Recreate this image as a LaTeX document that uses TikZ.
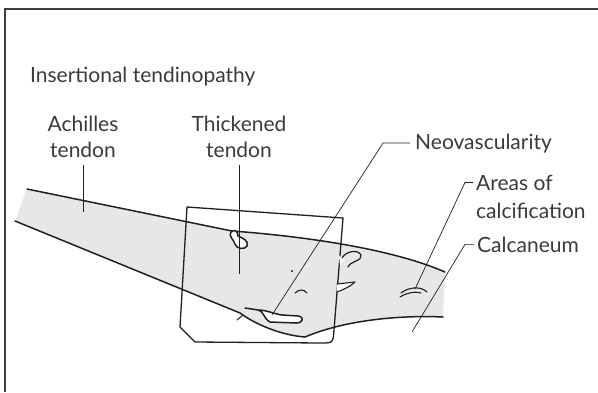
\documentclass[tikz,border=0pt]{standalone}
\usepackage{fontspec}
\setmainfont{Lato}
\usetikzlibrary{calc}
\definecolor{ink}{HTML}{231F20}
\definecolor{tissue}{HTML}{E6E7E8}
\definecolor{labelink}{HTML}{3A3A3A}
\begin{document}
\begin{tikzpicture}[x=1pt,y=-1pt,
  outline/.style={draw=ink,line width=1.5pt,line join=round,line cap=round},
  leader/.style={draw=ink,line width=0.7pt},
  lbl/.style={inner sep=0pt,text=labelink,font=\fontsize{21}{25}\selectfont},
  frame/.style={draw=black!75,line width=1.1pt}]
\useasboundingbox (0,0) rectangle (598,392);

% open frame: top and left edges only
\draw[frame] (598,9) -- (5,9) -- (5,392);

% tendon running into the calcaneum
\fill[tissue] (27,189) -- (232,231)
  .. controls (300,236) and (390,248) .. (445,272)
  -- (443,317)
  .. controls (400,315) and (345,320) .. (305,337)
  .. controls (280,335) and (255,324) .. (240,313)
  -- (15,221) -- cycle;
\draw[outline] (27,189) -- (232,231)
  .. controls (300,236) and (390,248) .. (445,272);
\draw[outline] (15,221) -- (240,313)
  .. controls (255,324) and (280,335) .. (305,337)
  .. controls (345,320) and (400,315) .. (443,317);
\draw[outline,line width=1pt] (237,320) -- (243,315);

% thickened area at the tendon surface
\draw[outline,fill=white] (231,232) .. controls (234,229) and (238,231) .. (238,236)
  .. controls (243,238) and (249,241) .. (247,246)
  .. controls (245,250) and (236,249) .. (235,244)
  .. controls (234,240) and (228,236) .. (231,232) -- cycle;

% neovascular pocket
\draw[outline,fill=white] (258,310) .. controls (264,311) and (263,318) .. (270,322)
  -- (296,323) .. controls (303,323) and (305,317) .. (298,316)
  -- (282,315) .. controls (274,314) and (267,310) .. (258,310) -- cycle;
\draw[outline] (245,308) -- (258,310);

% small marks inside the thickened zone
\fill[ink] (292,271) circle (1.1);
\draw[outline,line width=1.1pt] (295,293) .. controls (299,289) and (304,289) .. (307,293);

% probe footprint
\draw[outline,line width=1.3pt] (187,207) -- (343,218) -- (334,330)
  .. controls (333,343) .. (321,343) -- (195,342) -- (180,327) -- cycle;

% erosions beside the probe edge
\fill[white] (339,256) -- (344,258) -- (340,266) -- cycle;
\draw[outline,line width=1.2pt] (342,258) .. controls (346,251) and (358,249) .. (361,255)
  .. controls (363,261) and (350,261) .. (348,267);
\fill[white] (337,284) -- (355,282) .. controls (350,287) and (342,290) .. (337,292) -- cycle;
\draw[outline,line width=1.1pt] (337,284) -- (355,282) .. controls (350,287) and (342,290) .. (337,292);

% calcific deposits
\draw[outline,line width=1.1pt] (401,293) .. controls (407,288) and (420,285) .. (427,292);
\draw[outline,line width=1.1pt] (400,297) .. controls (406,293) and (415,291) .. (421,293);

% labels
\node[lbl,anchor=base west] (title) at (30,82) {Insertional tendinopathy};
\node[lbl,anchor=base] (achA) at (83,131) {Achilles};
\node[lbl,anchor=base] (achT) at (83,157) {tendon};
\node[lbl,anchor=base] (thkA) at (239,131) {Thickened};
\node[lbl,anchor=base] (thkT) at (239,157) {tendon};
\node[lbl,anchor=base west] (neo) at (415,149) {Neovascularity};
\node[lbl,anchor=base west] (areas) at (476,190) {Areas of};
\node[lbl,anchor=base west] (areasB) at (476,218) {calcification};
\node[lbl,anchor=base west] (calc) at (477,252) {Calcaneum};

% leader end points
\coordinate (achEnd) at (83,212);
\coordinate (thkEnd) at (239,274);
\coordinate (neoEnd) at (272,315);
\coordinate (areasEnd) at (415,289);
\coordinate (calcEnd) at (412,332);

\draw[leader] ([yshift=-8pt]achT.south) -- (achEnd);
\draw[leader] ([yshift=-8pt]thkT.south) -- (thkEnd);
\draw[leader] ([xshift=-5pt]neo.west) -- ++(-27,0) -- (neoEnd);
\draw[leader] ([xshift=-3pt]areas.west) -- ++(-8,0) -- (areasEnd);
\draw[leader] ([xshift=-3pt]calc.west) -- ++(-9,0) -- (calcEnd);
\end{tikzpicture}
\end{document}
